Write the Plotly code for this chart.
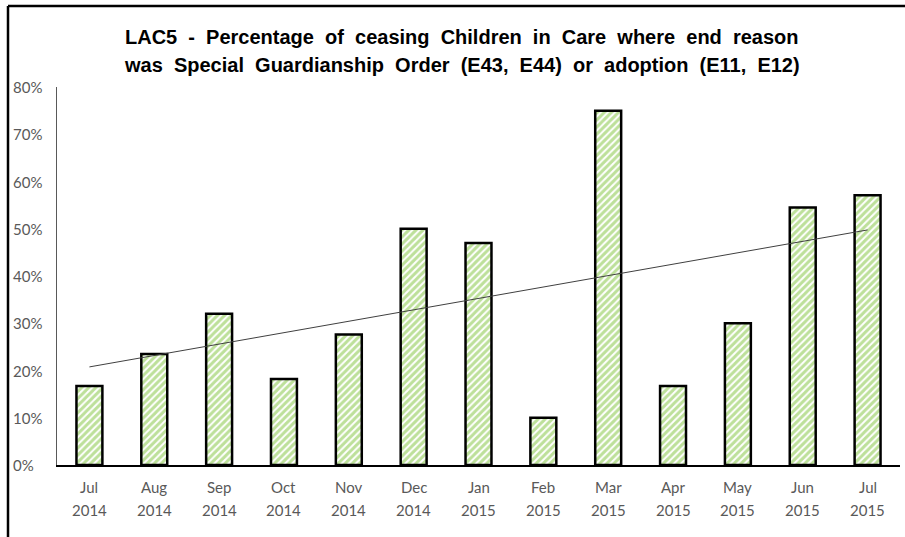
import numpy as np
import plotly.graph_objects as go

# ─── data ──────────────────────────────────────────
months = ["Jul", "Aug", "Sep", "Oct", "Nov", "Dec", "Jan", "Feb", "Mar", "Apr", "May", "Jun", "Jul"]
years = ["2014", "2014", "2014", "2014", "2014", "2014", "2015", "2015", "2015", "2015", "2015", "2015", "2015"]
pct = [16.7, 23.5, 32.0, 18.2, 27.6, 50.0, 47.0, 10.0, 75.0, 16.7, 30.0, 54.5, 57.1]
y_ticks = [0, 10, 20, 30, 40, 50, 60, 70, 80]
title_lines = ["LAC5 - Percentage of ceasing Children in Care where end reason",
               "was Special Guardianship Order (E43, E44) or adoption (E11, E12)"]

W, H = 905, 537
L, R, T, B = 57, 5, 87, 72
pw, ph = W - L - R, H - T - B
cats = [f"{m} {y}" for m, y in zip(months, years)]
lab_font = dict(family='Lato, Carlito, sans-serif', size=15, color='#595959')

# linear trendline (least squares, like Excel)
idx = np.arange(len(pct))
k, c = np.polyfit(idx, pct, 1)
trend = k * idx + c

fig = go.Figure()
fig.add_trace(go.Bar(
    x=cats, y=pct, width=0.4,
    marker=dict(color='white', line=dict(color='black', width=2.5),
                pattern=dict(shape='/', fgcolor='#7CC236', bgcolor='white', size=5, solidity=0.6)),
    showlegend=False
))
fig.add_trace(go.Scatter(
    x=cats, y=trend, mode='lines',
    line=dict(color='#404040', width=1), showlegend=False
))

# y tick labels, left aligned like the original
for v in y_ticks:
    fig.add_annotation(x=(11 - L) / pw, xref='paper', y=v, yref='y', text=f"{v}%",
                       showarrow=False, xanchor='left', yanchor='middle', font=lab_font)

# two-line category labels
for cat, m, y in zip(cats, months, years):
    fig.add_annotation(x=cat, xref='x', y=0, yref='y', text=m, showarrow=False,
                       yanchor='middle', yshift=-22, font=lab_font)
    fig.add_annotation(x=cat, xref='x', y=0, yref='y', text=y, showarrow=False,
                       yanchor='middle', yshift=-45, font=lab_font)

for i, line in enumerate(title_lines):
    fig.add_annotation(x=(462 - L) / pw, xref='paper', y=(H - B - (37 + 28 * i)) / ph, yref='paper',
                       text="<b>" + line.replace(" ", "&nbsp;&nbsp;") + "</b>",
                       showarrow=False, xanchor='center', yanchor='middle',
                       font=dict(family='Liberation Sans, Arial, sans-serif', size=20, color='black'))

# frame (top & left edges visible)
fig.add_shape(type='line', xref='paper', yref='paper',
              x0=(8 - L) / pw, x1=(W + 5 - L) / pw, y0=(H - B - 6) / ph, y1=(H - B - 6) / ph,
              line=dict(color='black', width=2.5))
fig.add_shape(type='line', xref='paper', yref='paper',
              x0=(8 - L) / pw, x1=(8 - L) / pw, y0=(H - B - 6) / ph, y1=(H - B - H - 5) / ph,
              line=dict(color='black', width=2.5))

fig.update_layout(
    width=W, height=H,
    paper_bgcolor='white', plot_bgcolor='white',
    margin=dict(l=L, r=R, t=T, b=B),
    xaxis=dict(showgrid=False, showline=True, linecolor='black', linewidth=1.5,
               showticklabels=False, ticks=''),
    yaxis=dict(range=[0, 80], showgrid=False, showline=True, linecolor='#595959', linewidth=1,
               showticklabels=False, ticks='', zeroline=False),
)

fig.write_html("out.html", config={'displayModeBar': False},
               post_script="document.body.style.margin='0';")
